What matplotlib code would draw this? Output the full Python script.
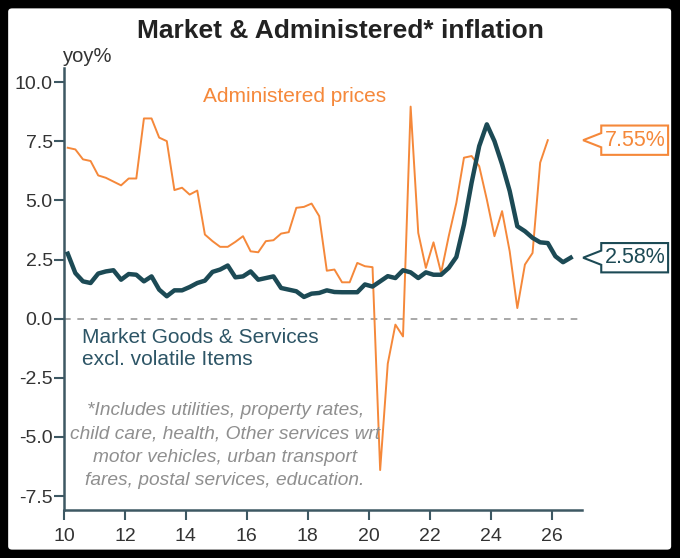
import numpy as np
import matplotlib.pyplot as plt
from matplotlib.patches import FancyBboxPatch, Polygon

plt.rcParams['font.family'] = ['Liberation Sans', 'DejaVu Sans']

# quarterly observations, years shown as 2-digit (10 = 2010)
start_year = 10.125
admin_prices = [7.23, 7.16, 6.74, 6.67, 6.06, 5.96, 5.80, 5.64,
                5.93, 5.93, 8.47, 8.47, 7.66, 7.51, 5.44, 5.54,
                5.25, 5.42, 3.56, 3.28, 3.04, 3.04, 3.25, 3.49,
                2.85, 2.81, 3.28, 3.32, 3.60, 3.66, 4.69, 4.73,
                4.87, 4.34, 2.03, 2.08, 1.54, 1.54, 2.36, 2.22,
                2.18, -6.40, -1.90, -0.25, -0.75, 8.97, 3.63, 2.15,
                3.23, 1.94, 3.49, 4.90, 6.81, 6.88, 6.45, 5.04,
                3.49, 4.55, 2.85, 0.45, 2.29, 2.78, 6.60, 7.55]
market_goods = [2.75, 1.93, 1.58, 1.51, 1.91, 2.00, 2.05, 1.65,
                1.89, 1.86, 1.58, 1.79, 1.23, 0.95, 1.20, 1.20,
                1.34, 1.51, 1.61, 1.98, 2.08, 2.25, 1.75, 1.79,
                2.00, 1.65, 1.72, 1.79, 1.30, 1.23, 1.16, 0.92,
                1.06, 1.09, 1.20, 1.13, 1.12, 1.12, 1.12, 1.45,
                1.36, 1.58, 1.80, 1.72, 2.05, 1.96, 1.72, 1.96,
                1.86, 1.86, 2.15, 2.61, 3.98, 5.75, 7.30, 8.22,
                7.51, 6.53, 5.40, 3.91, 3.70, 3.42, 3.23, 3.20,
                2.64, 2.39, 2.58]
y_ticks = [-7.5, -5.0, -2.5, 0.0, 2.5, 5.0, 7.5, 10.0]
x_ticks = [10, 12, 14, 16, 18, 20, 22, 24, 26]
footnote = ['*Includes utilities, property rates,',
            'child care, health, Other services wrt',
            'motor vehicles, urban transport',
            'fares, postal services, education.']

orange = '#f5883a'
teal = '#1c4a55'
axis_col = '#3d5863'

t_admin = start_year + 0.25 * np.arange(len(admin_prices))
t_market = start_year + 0.25 * np.arange(len(market_goods))

fig = plt.figure(figsize=(6.8, 5.58), dpi=100, facecolor='black')
panel = FancyBboxPatch((0.012, 0.015), 0.975, 0.97,
                       boxstyle='round,pad=0,rounding_size=0.006',
                       transform=fig.transFigure, facecolor='white',
                       edgecolor='none', zorder=-10)
fig.patches.append(panel)

ax = fig.add_axes([0.094, 0.086, 0.762, 0.792])
ax.set_facecolor('none')
ax.set_zorder(2)

ax.axhline(0, color='#999999', lw=1.2, ls=(0, (4, 4)), zorder=1)
ax.plot(t_admin, admin_prices, color=orange, lw=1.4, zorder=2)
ax.plot(t_market, market_goods, color=teal, lw=3.2, zorder=3,
        solid_joinstyle='round')

ax.set_xlim(10, 27.0)
ax.set_ylim(-8.09, 10.6)
ax.set_xticks(x_ticks)
ax.set_xticklabels([str(x) for x in x_ticks])
ax.set_yticks(y_ticks)
ax.set_yticklabels(['%.1f' % y for y in y_ticks])
ax.tick_params(axis='both', direction='out', length=7, width=1.5,
               color=axis_col, labelsize=14, labelcolor='#333333')
ax.tick_params(axis='x', pad=6)
ax.tick_params(axis='y', pad=1)
for side in ['top', 'right']:
    ax.spines[side].set_visible(False)
for side in ['left', 'bottom']:
    ax.spines[side].set_color(axis_col)
    ax.spines[side].set_linewidth(1.8)

fig.text(0.5, 0.944, 'Market & Administered* inflation', ha='center',
         va='center', fontsize=19, fontweight='bold', color='#222222')
fig.text(63 / 680, 1 - 57 / 558, 'yoy%', ha='left', va='center',
         fontsize=14.5, color='#333333')

ax.text(17.56, 9.41, 'Administered prices', ha='center', va='center',
        fontsize=15, color=orange)
ax.text(10.59, -0.81, 'Market Goods & Services', ha='left', va='center',
        fontsize=15, color='#2d5566')
ax.text(10.59, -1.74, 'excl. volatile Items', ha='left', va='center',
        fontsize=15, color='#2d5566')
ax.text(15.29, -5.36, '\n'.join(footnote), ha='center', va='center',
        fontsize=13.8, style='italic', color='#8f8f8f', linespacing=1.47)

# end-value callouts
ytr = ax.get_yaxis_transform()
for val, col in [(admin_prices[-1], orange), (market_goods[-1], teal)]:
    h = 0.62
    n = 0.30
    pts = [(1.002, val), (1.037, val + n), (1.037, val + h),
           (1.166, val + h), (1.166, val - h), (1.037, val - h),
           (1.037, val - n)]
    ax.add_patch(Polygon(pts, closed=True, transform=ytr, clip_on=False,
                         facecolor='white', edgecolor=col, lw=1.5))
    ax.text(1.102, val, '%.2f%%' % val, transform=ytr, ha='center',
            va='center', fontsize=15.5, color=col, clip_on=False)

fig.savefig('out.png', dpi=100, facecolor=fig.get_facecolor())
